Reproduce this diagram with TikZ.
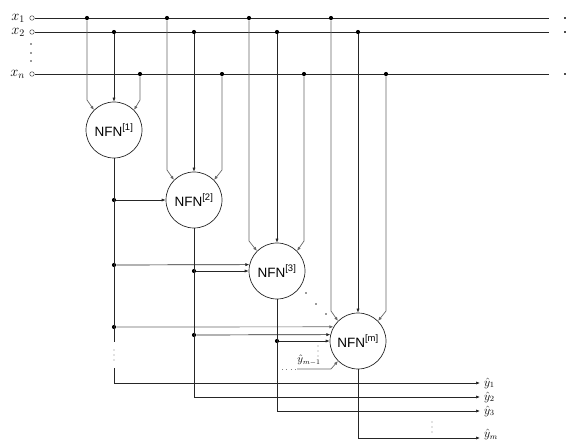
\documentclass[tikz,border=0pt]{standalone}
\usepackage{fontspec}
\newfontfamily\nfnfont{Liberation Sans}
\usetikzlibrary{arrows.meta}
\begin{document}
\begin{tikzpicture}[x=1pt,y=-1pt,
  wire/.style={draw=black!85,line width=0.7pt},
  gwire/.style={draw=black!60,line width=0.7pt},
  arr/.style={-{Latex[length=4pt,width=3.2pt]}},
  junc/.style={circle,fill=black,inner sep=0pt,minimum size=4.2pt},
  term/.style={circle,draw=black!70,fill=white,inner sep=0pt,minimum size=4.5pt,line width=0.5pt},
  nfn/.style={circle,draw=black!85,line width=0.7pt,minimum size=56pt,inner sep=0pt,
    font=\nfnfont\fontsize{13.5}{14}\selectfont},
  lab/.style={inner sep=0pt,font=\fontsize{14}{14}\selectfont},
  olab/.style={anchor=west,inner sep=0pt,font=\fontsize{12}{12}\selectfont},
  endm/.style={fill=black!70,inner sep=0pt,minimum size=1.8pt}]
\useasboundingbox (0,0) rectangle (574,441);

% input terminals and labels
\node[term] (t1) at (32,18) {};
\node[term] (t2) at (32,32) {};
\node[term] (tn) at (32,74) {};
\node[lab,anchor=east] (l1) at (25,18) {$x_1$};
\node[lab,anchor=east] (l2) at (25,32) {$x_2$};
\node[lab,anchor=east] (ln) at (25,74) {$x_n$};
\foreach \yy in {44,53,61} \fill[black!80] (31,\yy) circle (0.8pt);

% line ends
\coordinate (e1) at (549,18);
\coordinate (e2) at (549,32);
\coordinate (en) at (549,74);
\node[endm] (d1) at (565,18) {};
\node[endm] (d2) at (565,32) {};
\node[endm] (dn) at (565,74) {};
\draw[wire] (t1) -- (e1);
\draw[wire] (t2) -- (e2);
\draw[wire] (tn) -- (en);

% junctions on input lines
\node[junc] (j11) at (87,18) {};
\node[junc] (j21) at (114,32) {};
\node[junc] (jn1) at (140,74) {};
\node[junc] (j12) at (167,18) {};
\node[junc] (j22) at (194,32) {};
\node[junc] (jn2) at (222,74) {};
\node[junc] (j13) at (249,18) {};
\node[junc] (j23) at (277,32) {};
\node[junc] (jn3) at (304,74) {};
\node[junc] (j14) at (331,18) {};
\node[junc] (j24) at (358,32) {};
\node[junc] (jn4) at (386,74) {};

% NFN nodes
\node[nfn] (n1) at (114,130) {NFN\textsuperscript{[1]}};
\node[nfn] (n2) at (194,200) {NFN\textsuperscript{[2]}};
\node[nfn] (n3) at (277,271) {NFN\textsuperscript{[3]}};
\node[nfn] (n4) at (358,341) {NFN\textsuperscript{[m]}};

% inputs to NFN nodes
\draw[gwire,arr] (j11) -- (87,100) -- (n1.135);
\draw[wire,arr] (j21) -- (n1.north);
\draw[gwire,arr] (jn1) -- (140,100) -- (n1.45);
\draw[gwire,arr] (j12) -- (167,170) -- (n2.135);
\draw[wire,arr] (j22) -- (n2.north);
\draw[gwire,arr] (jn2) -- (222,170) -- (n2.45);
\draw[gwire,arr] (j13) -- (249,241) -- (n3.135);
\draw[wire,arr] (j23) -- (n3.north);
\draw[gwire,arr] (jn3) -- (304,241) -- (n3.45);
\draw[gwire,arr] (j14) -- (331,311) -- (n4.135);
\draw[wire,arr] (j24) -- (n4.north);
\draw[gwire,arr] (jn4) -- (386,311) -- (n4.45);

% junctions on output lines
\node[junc] (a1) at (114,200) {};
\node[junc] (a2) at (114,265) {};
\node[junc] (a3) at (114,327) {};
\node[junc] (b1) at (194,271) {};
\node[junc] (b2) at (194,335) {};
\node[junc] (c1) at (277,341) {};

\draw[wire,arr] (a1) -- (n2.west);
\draw[wire,arr] (a2) -- (n3.167.6);
\draw[wire,arr] (b1) -- (n3.west);
\draw[gwire,arr] (a3) -- (n4.150);
\draw[wire,arr] (b2) -- (n4.167.6);
\draw[wire,arr] (c1) -- (n4.west);

% outputs
\coordinate (g1) at (114,342);
\coordinate (g2) at (114,368);
\coordinate (o1) at (480,383);
\coordinate (o2) at (480,397);
\coordinate (o3) at (480,411);
\coordinate (o4) at (480,438);
\draw[wire] (n1.south) -- (g1);
\foreach \yy in {350,355,360} \fill[black!50] (114,\yy) circle (0.55pt);
\draw[wire,arr] (g2) -- (114,383) -- (o1);
\draw[wire,arr] (n2.south) -- (194,397) -- (o2);
\draw[wire,arr] (n3.south) -- (277,411) -- (o3);
\draw[wire,arr] (n4.south) -- (358,438) -- (o4);
\node[olab] (y1) at (484,383) {$\hat{y}_1$};
\node[olab] (y2) at (484,397) {$\hat{y}_2$};
\node[olab] (y3) at (484,411) {$\hat{y}_3$};
\node[olab,anchor=south west] (y4) at (484,440.5) {$\hat{y}_m$};
\foreach \yy in {422,427,432} \fill[black!50] (432,\yy) circle (0.55pt);

% y_{m-1} input
\coordinate (p0) at (282,369);
\coordinate (p1) at (297,369);
\draw[black!50,line width=0.7pt,dash pattern=on 0.8pt off 3.5pt] (p0) -- (p1);
\draw[gwire,arr] (p1) -- (331,369) -- (n4.225);
\node[inner sep=0pt,font=\fontsize{10.5}{10.5}\selectfont] (ym) at (309,360) {$\hat{y}_{m-1}$};
\foreach \yy in {346,351,356} \fill[black!50] (318,\yy) circle (0.55pt);

% diagonal dots between NFN3 and NFNm
\foreach \p in {(306,293),(316,304),(326,314)} \fill[black!80] \p circle (0.8pt);
\end{tikzpicture}
\end{document}
